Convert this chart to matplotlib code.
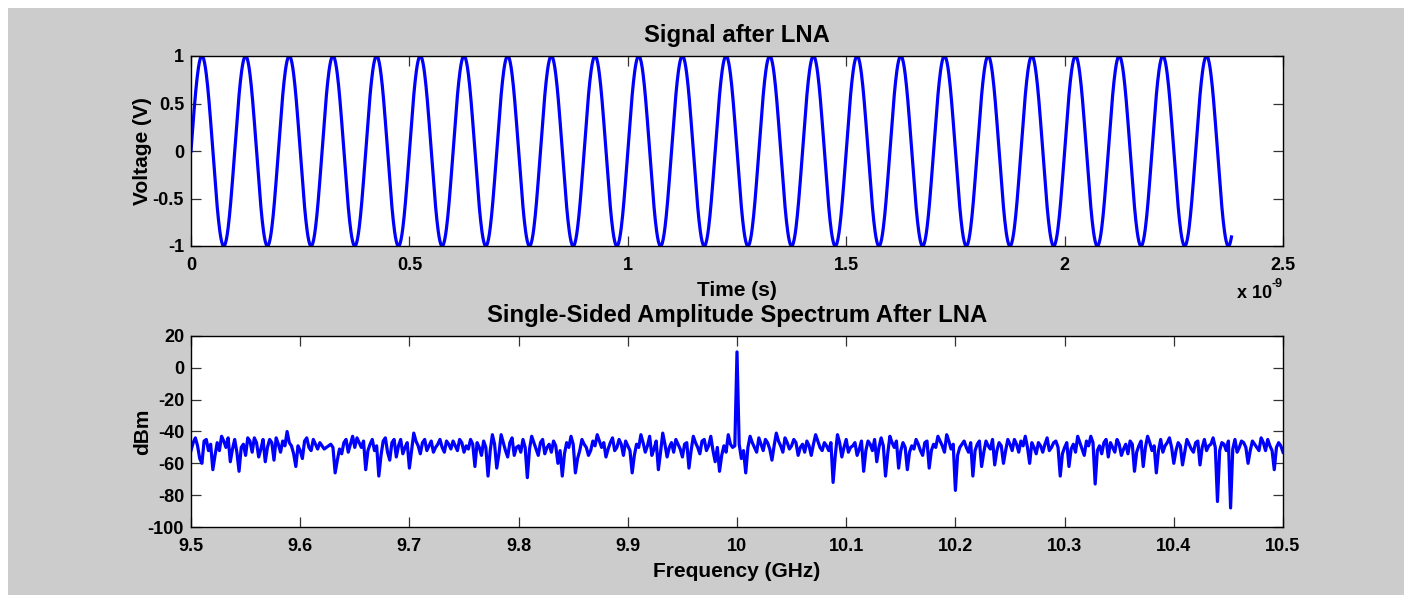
import numpy as np
import matplotlib
matplotlib.use("Agg")
import matplotlib.pyplot as plt
from matplotlib.patches import Rectangle
from matplotlib.ticker import FuncFormatter, FixedLocator

# ---------------- data ----------------
# Top panel: LNA output carrier
carrier_freq_hz = 10e9          # 10 cycles per ns
carrier_amp_v = 1.0
t_end_s = 2.383e-9
t_step_s = 1e-12

# Bottom panel: single-sided spectrum (dBm) on a 2 MHz grid from 9.5 to 10.5 GHz,
# stored as the values on the 4 MHz points and the values between them.
freq_start_ghz = 9.5
freq_step_ghz = 0.002
spectrum_dbm_on_4mhz = [
    -52, -44, -57, -46, -52, -64, -47, -43, -50, -59,
    -45, -65, -48, -44, -53, -47, -51, -59, -45, -58,
    -48, -46, -40, -49, -62, -52, -46, -50, -45, -51,
    -49, -50, -48, -66, -51, -47, -53, -43, -44, -50,
    -64, -48, -52, -68, -46, -53, -47, -56, -45, -50,
    -63, -41, -49, -47, -52, -46, -50, -45, -53, -48,
    -46, -52, -47, -49, -45, -62, -50, -46, -68, -42,
    -63, -42, -52, -47, -55, -49, -45, -69, -43, -51,
    -47, -54, -48, -46, -60, -68, -47, -43, -66, -52,
    -48, -55, -46, -42, -50, -56, -47, -52, -45, -55,
    -49, -66, -48, -42, -53, -43, -51, -64, -41, -56,
    -47, -45, -51, -48, -63, -43, -50, -46, -52, -43,
    -59, -65, -49, -42, -50, 10, -57, -66, -43, -50,
    -44, -52, -47, -58, -41, -49, -44, -51, -45, -55,
    -48, -46, -55, -42, -50, -47, -52, -72, -42, -56,
    -45, -50, -47, -51, -65, -46, -52, -59, -44, -68,
    -43, -50, -63, -47, -64, -49, -45, -52, -47, -63,
    -48, -43, -49, -42, -51, -77, -50, -46, -53, -68,
    -48, -62, -46, -51, -61, -47, -60, -45, -52, -48,
    -46, -43, -60, -50, -47, -53, -44, -50, -46, -68,
    -50, -62, -48, -43, -51, -46, -43, -73, -49, -47,
    -56, -50, -45, -55, -48, -46, -65, -49, -62, -43,
    -52, -66, -45, -49, -44, -60, -47, -61, -45, -51,
    -47, -61, -45, -49, -44, -84, -47, -52, -88, -45,
    -50, -47, -60, -46, -50, -44, -52, -49, -64, -47,
    -53,
]
spectrum_dbm_between = [
    -47, -49, -60, -45, -48, -55, -52, -46, -44, -51,
    -53, -50, -55, -46, -44, -56, -45, -50, -47, -44,
    -53, -49, -47, -54, -49, -57, -44, -52, -48, -47,
    -51, -49, -50, -58, -54, -45, -48, -50, -47, -46,
    -52, -45, -49, -55, -44, -58, -45, -49, -54, -47,
    -52, -46, -54, -45, -49, -53, -48, -50, -46, -51,
    -49, -45, -53, -51, -48, -47, -55, -50, -52, -48,
    -54, -47, -56, -44, -50, -53, -50, -51, -47, -55,
    -45, -50, -53, -49, -52, -54, -50, -48, -57, -45,
    -50, -52, -49, -46, -47, -51, -44, -50, -48, -46,
    -52, -55, -50, -47, -49, -55, -46, -53, -48, -50,
    -53, -48, -56, -47, -52, -47, -54, -45, -49, -52,
    -50, -55, -53, -48, -49, -48, -52, -50, -47, -53,
    -48, -45, -51, -49, -46, -53, -47, -49, -47, -50,
    -53, -49, -48, -46, -52, -49, -47, -55, -47, -50,
    -53, -49, -55, -46, -52, -48, -45, -50, -49, -54,
    -47, -46, -52, -50, -53, -51, -48, -55, -46, -52,
    -50, -46, -53, -46, -48, -55, -48, -50, -47, -52,
    -46, -53, -49, -45, -52, -49, -52, -48, -45, -53,
    -49, -50, -47, -54, -49, -48, -52, -47, -50, -54,
    -47, -51, -53, -47, -55, -49, -47, -52, -54, -45,
    -47, -53, -48, -51, -54, -48, -53, -46, -50, -47,
    -49, -52, -53, -47, -50, -52, -49, -53, -48, -53,
    -46, -50, -52, -48, -50, -52, -48, -46, -51, -53,
    -46, -50, -52, -48, -52, -47, -45, -52, -50, -49,
]

top_xticks = [0, 0.5e-9, 1.0e-9, 1.5e-9, 2.0e-9, 2.5e-9]
top_yticks = [-1, -0.5, 0, 0.5, 1]
bot_xticks = [9.5, 9.6, 9.7, 9.8, 9.9, 10.0, 10.1, 10.2, 10.3, 10.4, 10.5]
bot_yticks = [-100, -80, -60, -40, -20, 0, 20]

# ---------------- figure ----------------
plt.rcParams['font.family'] = ['Liberation Sans', 'DejaVu Sans']
plt.rcParams['font.weight'] = 'bold'

W, H = 1404, 595
fig = plt.figure(figsize=(W / 100, H / 100), dpi=100, facecolor='white')
fig.patches.append(Rectangle((8 / W, 0), 1 - 8 / W, 1 - 8 / H, transform=fig.transFigure,
                             facecolor='#cccccc', edgecolor='none', zorder=-10))

blue = '#0000ff'
tick_fs = 13
lab_fs = 15
title_fs = 17.2


def style(ax):
    ax.set_facecolor('white')
    for s in ax.spines.values():
        s.set_linewidth(1.0)
        s.set_color('black')
    ax.tick_params(direction='in', length=7, width=0.9, color='#333333',
                   top=True, right=True, labelsize=tick_fs)
    ax.tick_params(axis='x', pad=8)
    ax.tick_params(axis='y', pad=5)
    for lbl in ax.get_xticklabels() + ax.get_yticklabels():
        lbl.set_fontweight('bold')


left = 191 / W
# top axes
ax1 = fig.add_axes([left, 1 - 246 / H, 1092 / W, 190 / H])
t = np.arange(0, t_end_s, t_step_s)
v = carrier_amp_v * np.sin(2 * np.pi * carrier_freq_hz * t)
ax1.plot(t, v, color=blue, lw=2.3)
ax1.set_xlim(0, 2.5e-9)
ax1.set_ylim(-1, 1)
ax1.xaxis.set_major_locator(FixedLocator(top_xticks))
ax1.yaxis.set_major_locator(FixedLocator(top_yticks))
ax1.xaxis.set_major_formatter(FuncFormatter(lambda x, p: f"{x * 1e9:g}"))
ax1.yaxis.set_major_formatter(FuncFormatter(lambda y, p: f"{y:g}"))
style(ax1)
ax1.set_title('Signal after LNA', fontsize=title_fs, fontweight='bold', pad=10)
ax1.set_xlabel('Time (s)', fontsize=lab_fs, fontweight='bold', labelpad=5)
ax1.set_ylabel('Voltage (V)', fontsize=lab_fs, fontweight='bold', va='center')
ax1.yaxis.set_label_coords((142 - 191) / 1092, 0.5)
fig.text(1237 / W, 1 - 293 / H, 'x 10', fontsize=tick_fs, fontweight='bold',
         ha='left', va='center')
fig.text(1271 / W, 1 - 284 / H, '-9', fontsize=9, fontweight='bold',
         ha='left', va='center')

# bottom axes
ax2 = fig.add_axes([left, 1 - 527 / H, 1092 / W, 191 / H])
spec = np.empty(len(spectrum_dbm_on_4mhz) + len(spectrum_dbm_between))
spec[0::2] = spectrum_dbm_on_4mhz
spec[1::2] = spectrum_dbm_between
f = freq_start_ghz + freq_step_ghz * np.arange(len(spec))
ax2.plot(f, spec, color=blue, lw=2.3)
ax2.set_xlim(9.5, 10.5)
ax2.set_ylim(-100, 20)
ax2.xaxis.set_major_locator(FixedLocator(bot_xticks))
ax2.yaxis.set_major_locator(FixedLocator(bot_yticks))
ax2.xaxis.set_major_formatter(FuncFormatter(lambda x, p: f"{x:g}"))
ax2.yaxis.set_major_formatter(FuncFormatter(lambda y, p: f"{y:g}"))
style(ax2)
ax2.set_title('Single-Sided Amplitude Spectrum After LNA', fontsize=title_fs,
              fontweight='bold', pad=10)
ax2.set_xlabel('Frequency (GHz)', fontsize=lab_fs, fontweight='bold', labelpad=5)
ax2.set_ylabel('dBm', fontsize=lab_fs, fontweight='bold', va='center')
ax2.yaxis.set_label_coords((143 - 191) / 1092, 0.5)

fig.savefig('out.png', dpi=100, facecolor=fig.get_facecolor())
